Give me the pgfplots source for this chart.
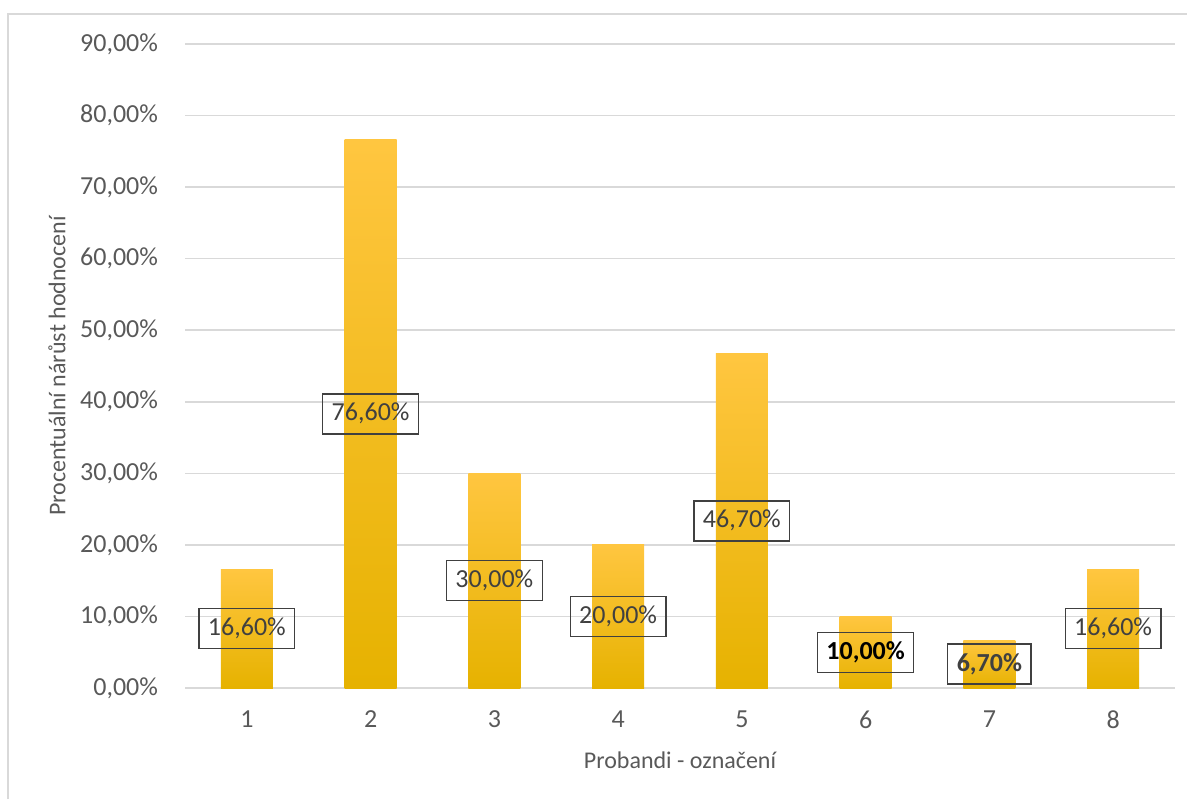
\documentclass[border=0pt]{standalone}
\usepackage{pgfplots}
\pgfplotsset{compat=1.18}
\usepackage{pgfplotstable}
\usepackage{fontspec}
\setmainfont{Carlito}
\definecolor{txt}{HTML}{595959}
\definecolor{lab}{HTML}{404040}
\definecolor{gridc}{HTML}{D9D9D9}
\definecolor{bartop}{HTML}{FFC640}
\definecolor{barmid}{HTML}{FFC000}
\definecolor{barbot}{HTML}{E6B200}

\pgfplotstableread[col sep=semicolon]{
x;y;lab
1;16.6;16,60\%
2;76.6;76,60\%
3;30.0;30,00\%
4;20.0;20,00\%
5;46.7;46,70\%
6;10.0;{\bfseries\color{black}10,00\%}
7;6.7;{\bfseries 6,70\%}
8;16.6;16,60\%
}\data

\begin{document}
\begin{tikzpicture}
\useasboundingbox (0,0) rectangle (593.5pt,399.5pt);
\draw[gridc, line width=0.75pt] (4pt,0) -- (4pt,392.5pt) -- (593.5pt,392.5pt);
\begin{axis}[
  at={(92.5pt,55.5pt)}, anchor=south west,
  scale only axis, width=495pt, height=322pt,
  xmin=0.5, xmax=8.5, ymin=0, ymax=90,
  axis line style={draw=none},
  ymajorgrids, grid style={gridc, line width=0.75pt},
  xtick={1,...,8}, ytick={0,10,...,90},
  yticklabel={\pgfmathprintnumber[fixed,fixed zerofill,precision=2,use comma]{\tick}\%},
  major tick length=0pt,
  /pgf/number format/assume math mode=true,
  tick label style={font=\fontsize{13}{15}\selectfont, text=txt},
  yticklabel style={xshift=-10pt},
  xticklabel style={yshift=-8pt},
  xlabel={Probandi - označení}, ylabel={Procentuální nárůst hodnocení},
  label style={font=\fontsize{12}{14}\selectfont, text=txt},
  xlabel style={at={(axis description cs:0.5,-0.1118)}, anchor=center},
  ylabel style={at={(axis description cs:-0.1293,0.5)}, anchor=center},
  clip=false,
]
\pgfplotsinvokeforeach{1,...,8}{
\addplot[ybar, bar width=26pt, draw=none, top color=bartop, middle color=barmid, bottom color=barbot,
  x filter/.expression={x==#1 ? x : nan}]
  table[x=x, y=y] {\data};
}
\addplot[draw=none, nodes near coords, point meta=explicit symbolic,
  nodes near coords align={center},
  every node near coord/.append style={anchor=center, draw=lab, line width=0.6pt, text=lab,
    font=\fontsize{13}{15}\selectfont, inner xsep=4.5pt, inner ysep=4.5pt,
    text height=9pt, text depth=2pt}]
  table[x=x, y expr=\thisrow{y}/2, meta=lab] {\data};
\end{axis}
\end{tikzpicture}
\end{document}
